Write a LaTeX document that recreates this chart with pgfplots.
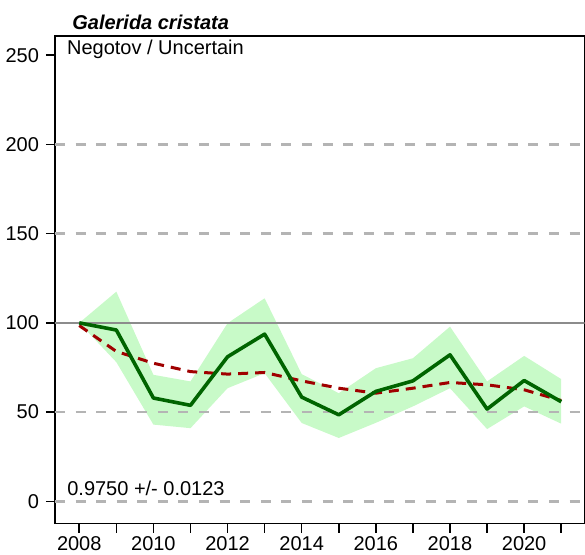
\documentclass[border=0pt]{standalone}
\usepackage{fontspec}
\setmainfont{Liberation Sans}
\usepackage{pgfplots}
\usepackage{pgfplotstable}
\pgfplotsset{compat=1.18}
\usepgfplotslibrary{fillbetween}
\definecolor{bandgreen}{RGB}{200,250,200}
\definecolor{idxgreen}{RGB}{0,100,0}
\definecolor{trendred}{RGB}{160,0,0}
\definecolor{gridgrey}{RGB}{180,180,180}

\pgfplotstableread{
year idx   up    lo    trend
2008 100   100   100   98.5
2009 96    117.5 78    84
2010 57.9  70.9  43    77.4
2011 53.8  67.2  41    72.7
2012 81    99.8  63.4  71.3
2013 93.7  113.8 71.8  72.2
2014 58.4  71.3  43.9  67.5
2015 48.5  60.6  35.5  63.4
2016 61.6  74.6  44    60.6
2017 67.5  80.2  53.2  63.4
2018 82.1  97.9  63.4  66.6
2019 51.7  67.2  40.5  65.3
2020 67.7  81.5  53.2  62.5
2021 55.8  68.5  43.5  56.5
}\galerida

\begin{document}
\begin{tikzpicture}
\begin{axis}[
    at={(0,0)}, anchor=south west,
    scale only axis,
    width=265pt, height=244pt,
    xmin=2007.345, xmax=2021.63,
    ymin=-12.5, ymax=260.8,
    xtick={2008,...,2021},
    xticklabels={2008,,2010,,2012,,2014,,2016,,2018,,2020,},
    ytick={0,50,...,250},
    tick align=outside,
    xtick pos=lower, ytick pos=left,
    major tick length=4.5pt,
    tick style={black, line width=0.8pt},
    axis line style={line width=0.8pt},
    ticklabel style={font=\fontsize{10}{11}\selectfont},
    xticklabel style={yshift=1.5pt},
    /pgf/number format/assume math mode=true,
]
% confidence band
\addplot[name path=up, draw=none] table[x=year, y=up] {\galerida};
\addplot[name path=lo, draw=none] table[x=year, y=lo] {\galerida};
\addplot[bandgreen, draw=none] fill between[of=up and lo];

% reference lines
\pgfplotsinvokeforeach{0,50,150,200}{
  \draw[gridgrey, line width=1.2pt, dash pattern=on 5pt off 5.3pt]
    (axis cs:2007.345,#1) -- (axis cs:2021.63,#1);
}
\draw[gray!90, line width=0.8pt] (axis cs:2007.345,100) -- (axis cs:2021.63,100);

% trend and index
\addplot[trendred, line width=1.5pt, dash pattern=on 5pt off 3.5pt] table[x=year, y=trend] {\galerida};
\addplot[idxgreen, line width=1.8pt, line join=round] table[x=year, y=idx] {\galerida};
\end{axis}

\node[anchor=base west, inner sep=0, font=\fontsize{10}{12}\selectfont\bfseries\itshape] at (8.5pt,247.4pt) {Galerida cristata};
\node[anchor=base west, inner sep=0, font=\fontsize{10}{12}\selectfont] at (5.9pt,234.5pt) {Negotov / Uncertain};
\node[anchor=base west, inner sep=0, font=\fontsize{10}{12}\selectfont] at (6pt,14pt) {0.9750 +/- 0.0123};

\pgfresetboundingbox
\useasboundingbox (-27.5pt,-15.5pt) rectangle (265.2pt,262pt);
\end{tikzpicture}
\end{document}
